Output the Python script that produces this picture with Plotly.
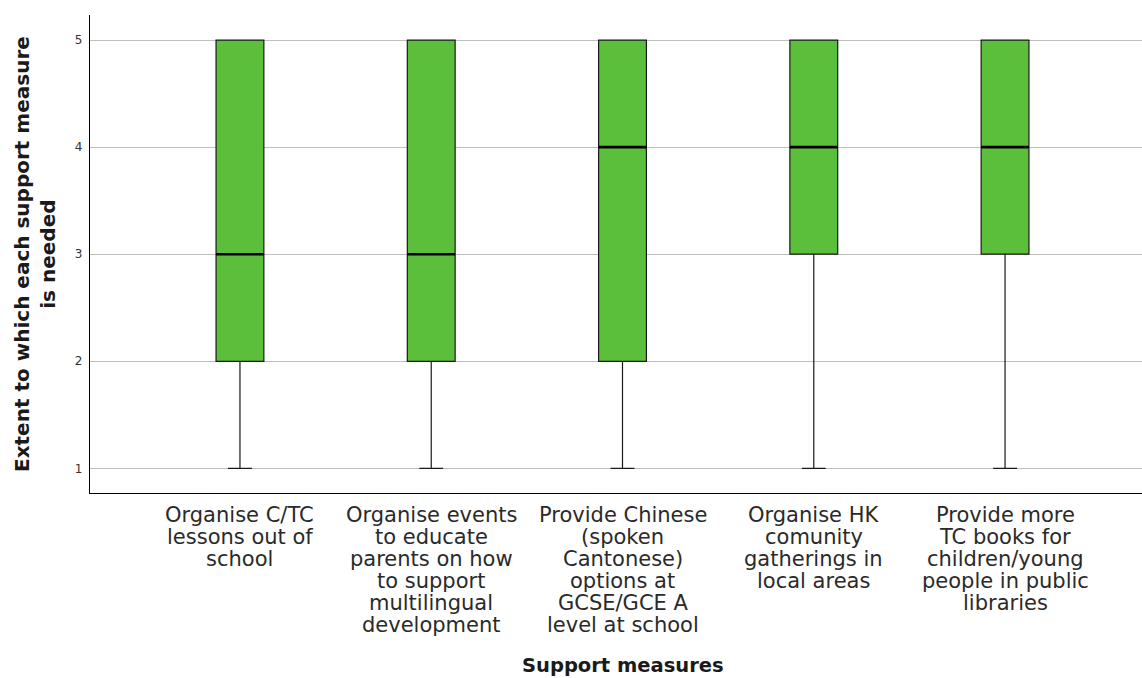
import plotly.graph_objects as go

# Support measures (x categories), each label split into display lines
measures = [
    "Organise C/TC<br>lessons out of<br>school",
    "Organise events<br>to educate<br>parents on how<br>to support<br>multilingual<br>development",
    "Provide Chinese<br>(spoken<br>Cantonese)<br>options at<br>GCSE/GCE A<br>level at school",
    "Organise HK<br>comunity<br>gatherings in<br>local areas",
    "Provide more<br>TC books for<br>children/young<br>people in public<br>libraries",
]

# Five-number summaries of the ratings (1-5 scale)
minimum = [1, 1, 1, 1, 1]
q1 = [2, 2, 2, 3, 3]
median = [3, 3, 4, 4, 4]
q3 = [5, 5, 5, 5, 5]
maximum = [5, 5, 5, 5, 5]

y_ticks = [1, 2, 3, 4, 5]

positions = list(range(len(measures)))
box_width = 0.25

fig = go.Figure()

fig.add_trace(go.Box(
    x=positions,
    q1=q1,
    median=median,
    q3=q3,
    lowerfence=minimum,
    upperfence=maximum,
    width=box_width,
    whiskerwidth=0.5,
    fillcolor="#5cbf3b",
    line=dict(color="#1a1a1a", width=1.2),
    boxpoints=False,
    hoverinfo="skip",
    showlegend=False,
))

# Heavier median bars drawn over each box
mx, my = [], []
for p, m in zip(positions, median):
    mx += [p - box_width / 2, p + box_width / 2, None]
    my += [m, m, None]
fig.add_trace(go.Scatter(
    x=mx, y=my, mode="lines",
    line=dict(color="#000000", width=2.6),
    hoverinfo="skip", showlegend=False,
))

# Category labels, one line at a time beneath the axis
annotations = []
for p, label in zip(positions, measures):
    for j, line in enumerate(label.split("<br>")):
        annotations.append(dict(
            x=p, xref="x", y=0, yref="paper",
            yanchor="middle", xanchor="center",
            yshift=-22 - 22 * j,
            text=line, showarrow=False, borderpad=0,
            font=dict(family="DejaVu Sans", size=21, color="#2a2a2a"),
        ))

# Axis titles
annotations.append(dict(
    x=2, xref="x", y=0, yref="paper",
    yanchor="middle", xanchor="center", yshift=-172,
    text="<b>Support measures</b>", showarrow=False, borderpad=0,
    font=dict(family="DejaVu Sans", size=19.5, color="#1a1a1a"),
))
annotations.append(dict(
    x=0, xref="paper", y=0.5, yref="paper",
    xanchor="center", yanchor="middle", xshift=-55,
    text="<b>Extent to which each support measure<br>is needed</b>",
    textangle=-90, showarrow=False, borderpad=0,
    font=dict(family="DejaVu Sans", size=20, color="#1a1a1a"),
))

fig.update_layout(
    width=1142, height=678,
    margin=dict(l=90, r=0, t=15, b=185),
    paper_bgcolor="white", plot_bgcolor="white",
    annotations=annotations,
    xaxis=dict(
        range=[-0.784, 4.716],
        showgrid=False, zeroline=False,
        showline=True, linecolor="#000000", linewidth=1.2,
        ticks="", showticklabels=False,
        tickvals=positions,
    ),
    yaxis=dict(
        range=[0.77, 5.234],
        tickvals=y_ticks,
        ticktext=[str(v) for v in y_ticks],
        showgrid=True, gridcolor="#bdbdbd", gridwidth=1,
        zeroline=False,
        showline=True, linecolor="#000000", linewidth=1.2,
        ticks="outside", ticklen=4, tickcolor="rgba(0,0,0,0)",
        tickfont=dict(family="DejaVu Sans", size=12, color="#333333"),
    ),
)

fig.write_html("out.html")
